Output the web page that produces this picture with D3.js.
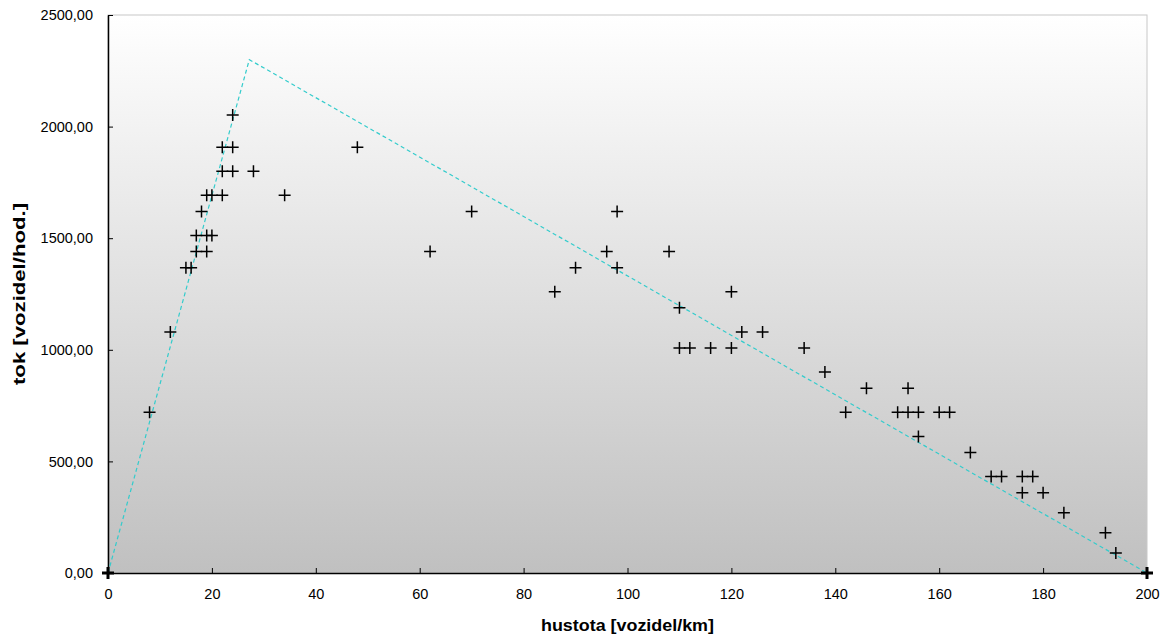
<!DOCTYPE html>
<html>
<head>
<meta charset="utf-8">
<script src="https://cdnjs.cloudflare.com/ajax/libs/d3/7.8.5/d3.min.js"></script>
<style>
  body { margin: 0; background: #fff; }
  svg { font-family: "Liberation Sans", Arial, sans-serif; }
</style>
</head>
<body>
<svg id="chart" width="1167" height="636"></svg>
<script>
// measured points: density [veh/km], flow [veh/h]
var density = [0, 8, 12, 15, 16, 17, 19, 17, 19, 20, 18, 19, 20, 22, 34, 22, 24, 28, 22, 24, 48, 24,
               62, 70, 86, 90, 96, 98, 98, 108, 110, 110, 112, 116, 120, 120, 122, 126,
               134, 138, 142, 146, 154, 152, 154, 156, 160, 162, 156, 166, 170, 172, 176, 178,
               176, 180, 184, 192, 194, 200];
var flow = [0, 720, 1080, 1368, 1368, 1440, 1440, 1512, 1512, 1512, 1620, 1692, 1692, 1692, 1692, 1800, 1800, 1800, 1908, 1908, 1908, 2052,
            1440, 1620, 1260, 1368, 1440, 1620, 1368, 1440, 1188, 1008, 1008, 1008, 1008, 1260, 1080, 1080,
            1008, 900, 720, 828, 828, 720, 720, 720, 720, 720, 612, 540, 432, 432, 432, 432,
            360, 360, 270, 180, 90, 0];
// triangular fundamental diagram
var modelK = [0, 27.2, 200];
var modelQ = [0, 2300, 0];
var xTicks = [0, 20, 40, 60, 80, 100, 120, 140, 160, 180, 200];
var yTicks = [0, 500, 1000, 1500, 2000, 2500];

var margin = {top: 15, right: 20, bottom: 63, left: 108},
    width = 1167 - margin.left - margin.right,
    height = 636 - margin.top - margin.bottom;

var svg = d3.select("#chart");

var defs = svg.append("defs");
var grad = defs.append("linearGradient")
    .attr("id", "bg").attr("x1", 0).attr("y1", 0).attr("x2", 0).attr("y2", 1);
grad.append("stop").attr("offset", "0%").attr("stop-color", "#ffffff");
grad.append("stop").attr("offset", "100%").attr("stop-color", "#c0c0c0");

var chart = svg.append("g")
    .attr("transform", "translate(" + margin.left + "," + margin.top + ")");

var x = d3.scaleLinear().domain([0, 200]).range([0, width]);
var y = d3.scaleLinear().domain([0, 2500]).range([height, 0]);

chart.append("rect")
    .attr("width", width).attr("height", height)
    .attr("fill", "url(#bg)")
    .attr("stroke", "#c8c8c8").attr("stroke-width", 1);

var fmt = function(d) { return d3.format(".2f")(d).replace(".", ","); };

var xAxis = chart.append("g")
    .attr("transform", "translate(0," + height + ")")
    .call(d3.axisBottom(x).tickValues(xTicks).tickSizeInner(-5).tickSizeOuter(0).tickPadding(16));
var yAxis = chart.append("g")
    .call(d3.axisLeft(y).tickValues(yTicks).tickFormat(fmt).tickSizeInner(-5).tickSizeOuter(0).tickPadding(15));

[xAxis, yAxis].forEach(function(a) {
  a.select(".domain").attr("stroke", "#000").attr("stroke-width", 1.5);
  a.selectAll(".tick line").attr("stroke", "#000");
  a.selectAll(".tick text").attr("font-size", 14.5).attr("fill", "#000")
      .attr("font-family", "'Liberation Sans', Arial, sans-serif");
});

var line = d3.line()
    .x(function(d, i) { return x(modelK[i]); })
    .y(function(d, i) { return y(d); });

chart.append("path")
    .datum(modelQ)
    .attr("d", line)
    .attr("fill", "none")
    .attr("stroke", "#33cccc")
    .attr("stroke-width", 1.2)
    .attr("stroke-dasharray", "4,3");

var s = 6;
chart.selectAll(".pt")
    .data(density)
    .enter().append("path")
    .attr("class", "pt")
    .attr("d", function(d, i) {
      var cx = x(d), cy = y(flow[i]);
      return "M" + (cx - s) + "," + cy + "H" + (cx + s) + "M" + cx + "," + (cy - s) + "V" + (cy + s);
    })
    .attr("stroke", "#000")
    .attr("stroke-width", function(d, i) { return flow[i] === 0 ? 3 : 1.5; })
    .attr("fill", "none");

chart.append("text")
    .attr("x", width / 2).attr("y", height + 58)
    .attr("text-anchor", "middle")
    .attr("font-size", 17).attr("font-weight", "bold")
    .attr("textLength", 173).attr("lengthAdjust", "spacingAndGlyphs")
    .text("hustota [vozidel/km]");

chart.append("text")
    .attr("transform", "translate(" + (-83) + "," + (height / 2) + ") rotate(-90)")
    .attr("text-anchor", "middle")
    .attr("font-size", 16).attr("font-weight", "bold")
    .attr("textLength", 182).attr("lengthAdjust", "spacingAndGlyphs")
    .text("tok [vozidel/hod.]");
</script>
</body>
</html>
